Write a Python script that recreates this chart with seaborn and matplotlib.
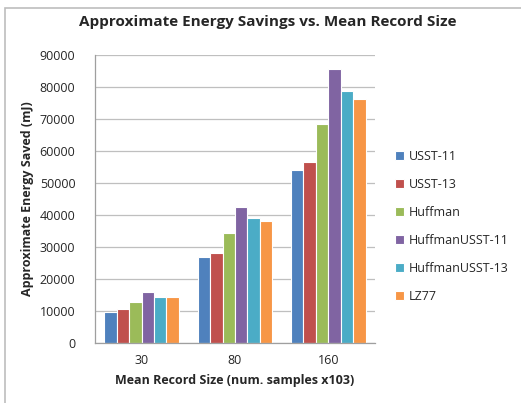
import matplotlib
matplotlib.use("Agg")
import matplotlib.pyplot as plt
import seaborn as sns
import pandas as pd
from matplotlib.patches import Rectangle

sizes = ["30", "80", "160"]
methods = ["USST-11", "USST-13", "Huffman", "HuffmanUSST-11", "HuffmanUSST-13", "LZ77"]
usst11 = [9800, 26800, 54200]
usst13 = [10500, 28200, 56700]
huffman = [12800, 34300, 68300]
huff_usst11 = [15800, 42500, 85500]
huff_usst13 = [14500, 39200, 78700]
lz77 = [14500, 38200, 76300]
colors = ["#4F81BD", "#C0504D", "#9BBB59", "#8064A2", "#4BACC6", "#F79646"]

series = [usst11, usst13, huffman, huff_usst11, huff_usst13, lz77]
rows = []
for m, vals in zip(methods, series):
    for s, v in zip(sizes, vals):
        rows.append({"size": s, "method": m, "energy": v})
df = pd.DataFrame(rows)

sns.set_theme(style="white")
plt.rcParams["font.family"] = ["Open Sans", "DejaVu Sans"]

fig = plt.figure(figsize=(5.21, 4.03), dpi=100)
ax = fig.add_axes([0.182, 0.149, 0.538, 0.7145])

sns.barplot(data=df, x="size", y="energy", hue="method", order=sizes,
            hue_order=methods, palette=colors, width=0.8, ax=ax,
            edgecolor="white", linewidth=0.8, saturation=1)

ax.set_ylim(0, 90000)
ax.set_yticks(range(0, 90001, 10000))
ax.set_yticklabels([str(v) for v in range(0, 90001, 10000)], fontsize=9)
ax.tick_params(axis="x", labelsize=9, length=0, pad=8)
ax.tick_params(axis="y", length=0, pad=14)
ax.yaxis.grid(True, color="#BFBFBF", linewidth=0.9)
ax.set_axisbelow(True)
for sp in ["top", "right"]:
    ax.spines[sp].set_visible(False)
for sp in ["left", "bottom"]:
    ax.spines[sp].set_color("#9F9F9F")
    ax.spines[sp].set_linewidth(0.9)

ax.set_xlabel("Mean Record Size (num. samples x103)", fontsize=9, fontweight="bold", labelpad=5)
ax.set_ylabel("Approximate Energy Saved (mJ)", fontsize=9, fontweight="bold", labelpad=4)
fig.text(0.513, 0.945, "Approximate Energy Savings vs. Mean Record Size",
         ha="center", va="center", fontsize=11, fontweight="bold")

leg = ax.legend(loc="center left", bbox_to_anchor=(1.03, 0.405), frameon=False,
                fontsize=9, handlelength=0.7, handleheight=0.7,
                handletextpad=0.4, labelspacing=1.2)

fig.add_artist(Rectangle((0.0105, -0.05), 1.2, 1.03, transform=fig.transFigure,
                         fill=False, edgecolor="#BDBDBD", linewidth=1.2))

fig.savefig("out.png", dpi=100)
